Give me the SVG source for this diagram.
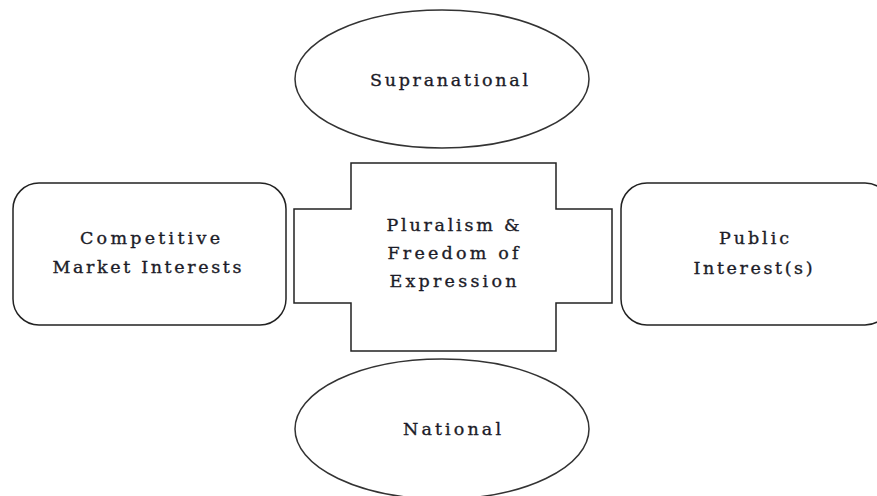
<svg xmlns="http://www.w3.org/2000/svg" width="877" height="496" viewBox="0 0 877 496">
<style>
.shape{fill:#fff;stroke:#222;stroke-width:1.5}
.ell{fill:#fff;stroke:#333;stroke-width:1.5}
text{font-family:"DejaVu Serif","Liberation Serif",serif;font-size:17.5px;fill:#1c1c28;stroke:#1c1c28;stroke-width:0.35;text-anchor:middle}
</style>
<rect width="877" height="496" fill="#fff"/>
<g id="connectors"></g>
<g id="supranational">
<ellipse class="ell" cx="442" cy="79" rx="147" ry="69"/>
<text x="449" y="86" textLength="158" lengthAdjust="spacing">Supranational</text>
</g>
<g id="national">
<ellipse class="ell" cx="442" cy="429" rx="147" ry="70"/>
<text x="452" y="435" textLength="98" lengthAdjust="spacing">National</text>
</g>
<g id="center">
<path class="shape" d="M351,163 H556 V209 H612 V303 H556 V351 H351 V303 H294 V209 H351 Z"/>
<text x="453" y="231" textLength="133" lengthAdjust="spacing">Pluralism &amp;</text>
<text x="453" y="259" textLength="131" lengthAdjust="spacing">Freedom of</text>
<text x="453" y="287" textLength="127" lengthAdjust="spacing">Expression</text>
</g>
<g id="competitive">
<rect class="shape" x="13" y="183" width="273" height="142" rx="26" ry="26"/>
<text x="150" y="244" textLength="140" lengthAdjust="spacing">Competitive</text>
<text x="147" y="273" textLength="189" lengthAdjust="spacing">Market Interests</text>
</g>
<g id="public">
<rect class="shape" x="621" y="183" width="270" height="142" rx="26" ry="26"/>
<text x="754" y="244" textLength="70" lengthAdjust="spacing">Public</text>
<text x="753" y="274" textLength="119" lengthAdjust="spacing">Interest(s)</text>
</g>
</svg>
